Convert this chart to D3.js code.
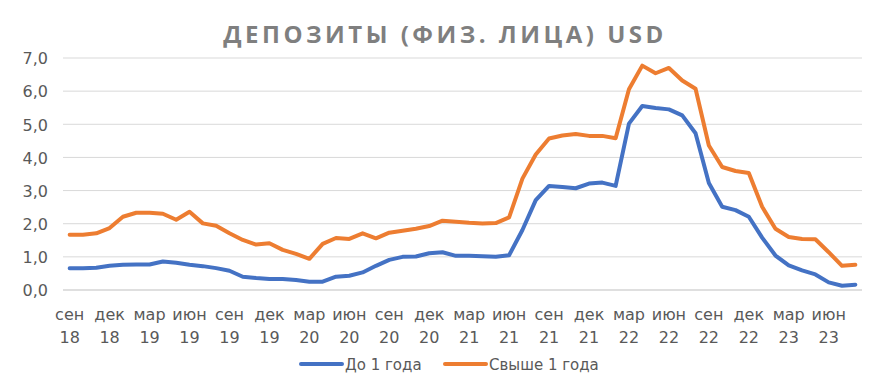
<!DOCTYPE html>
<html>
<head>
<meta charset="utf-8">
<script src="https://cdn.jsdelivr.net/npm/d3@7"></script>
<style>
  body { margin: 0; background: #fff; }
  svg { display: block; font-family: "DejaVu Sans", sans-serif; }
  .grid line { stroke: #d9d9d9; stroke-width: 1; }
  .axis text { fill: #595959; font-size: 16px; font-family: "DejaVu Sans", sans-serif; }
</style>
</head>
<body>
<svg width="885" height="388"></svg>
<script>
// категории (месяцы)
const categories = [
  "сен 18", "окт 18", "ноя 18", "дек 18",
  "янв 19", "фев 19", "мар 19", "апр 19", "май 19", "июн 19", "июл 19", "авг 19", "сен 19", "окт 19", "ноя 19", "дек 19",
  "янв 20", "фев 20", "мар 20", "апр 20", "май 20", "июн 20", "июл 20", "авг 20", "сен 20", "окт 20", "ноя 20", "дек 20",
  "янв 21", "фев 21", "мар 21", "апр 21", "май 21", "июн 21", "июл 21", "авг 21", "сен 21", "окт 21", "ноя 21", "дек 21",
  "янв 22", "фев 22", "мар 22", "апр 22", "май 22", "июн 22", "июл 22", "авг 22", "сен 22", "окт 22", "ноя 22", "дек 22",
  "янв 23", "фев 23", "мар 23", "апр 23", "май 23", "июн 23", "июл 23", "авг 23"
];

// подписи оси X
const tickLabels = [
  "сен 18", "дек 18", "мар 19", "июн 19", "сен 19", "дек 19", "мар 20", "июн 20", "сен 20", "дек 20",
  "мар 21", "июн 21", "сен 21", "дек 21", "мар 22", "июн 22", "сен 22", "дек 22", "мар 23", "июн 23"
];

// До 1 года
const shortTerm = [
  0.66, 0.66, 0.67, 0.73, 0.76, 0.77, 0.77, 0.86, 0.82, 0.76,
  0.72, 0.66, 0.58, 0.40, 0.36, 0.33, 0.33, 0.30, 0.25, 0.25,
  0.40, 0.43, 0.53, 0.73, 0.91, 1.00, 1.01, 1.11, 1.14, 1.03,
  1.03, 1.02, 1.00, 1.05, 1.81, 2.71, 3.14, 3.11, 3.07, 3.21,
  3.24, 3.14, 5.02, 5.55, 5.49, 5.45, 5.27, 4.73, 3.23, 2.51,
  2.41, 2.21, 1.58, 1.04, 0.74, 0.59, 0.47, 0.23, 0.13, 0.16
];

// Свыше 1 года
const longTerm = [
  1.67, 1.67, 1.71, 1.87, 2.21, 2.33, 2.33, 2.30, 2.12, 2.36,
  2.01, 1.94, 1.71, 1.51, 1.37, 1.41, 1.21, 1.09, 0.94, 1.39,
  1.57, 1.54, 1.71, 1.56, 1.73, 1.79, 1.85, 1.93, 2.09, 2.06,
  2.03, 2.01, 2.02, 2.19, 3.36, 4.09, 4.57, 4.66, 4.71, 4.65,
  4.65, 4.58, 6.06, 6.77, 6.54, 6.70, 6.32, 6.07, 4.36, 3.71,
  3.59, 3.53, 2.51, 1.85, 1.60, 1.54, 1.53, 1.14, 0.73, 0.76
];

const yTicks = [0, 1, 2, 3, 4, 5, 6, 7];

const series = [
  { name: "До 1 года", values: shortTerm, color: "#4472c4" },
  { name: "Свыше 1 года", values: longTerm, color: "#ed7d31" }
];

const svg = d3.select("svg");
const plotLeft = 63, plotRight = 862, plotTop = 58, plotBottom = 290;

const x = d3.scaleBand().domain(categories).range([plotLeft, plotRight]);
const y = d3.scaleLinear().domain([0, 7]).range([plotBottom, plotTop]);

// заголовок
svg.append("text")
  .attr("x", 445).attr("y", 43)
  .attr("text-anchor", "middle")
  .attr("fill", "#7f7f7f")
  .style("font-family", "'Open Sans', sans-serif")
  .style("font-weight", "bold")
  .style("font-size", "24px")
  .style("letter-spacing", "3.5px")
  .text("ДЕПОЗИТЫ (ФИЗ. ЛИЦА) USD");

// сетка
svg.append("g").attr("class", "grid")
  .selectAll("line")
  .data(yTicks)
  .enter()
  .append("line")
  .attr("x1", plotLeft).attr("x2", plotRight)
  .attr("y1", d => y(d)).attr("y2", d => y(d))
  .style("stroke", d => d === 0 ? "#bfbfbf" : "#d9d9d9");

// ось Y
const yAxis = svg.append("g").attr("class", "axis")
  .attr("transform", `translate(${plotLeft - 15},0)`)
  .call(d3.axisLeft(y).tickValues(yTicks).tickSize(0).tickFormat(d => d3.format(".1f")(d).replace(".", ",")));
yAxis.select(".domain").remove();
yAxis.selectAll("text").attr("dy", "0.36em").attr("x", 0);

// ось X
const xAxis = svg.append("g").attr("class", "axis")
  .attr("transform", `translate(0,${plotBottom})`)
  .call(d3.axisBottom(x).tickValues(tickLabels).tickSize(0));
xAxis.select(".domain").remove();
xAxis.selectAll("text").each(function(d) {
  const parts = d.split(" ");
  const t = d3.select(this).text(null).attr("y", 0).attr("dy", null);
  t.append("tspan").attr("x", 0).attr("y", 30).text(parts[0]);
  t.append("tspan").attr("x", 0).attr("y", 53).text(parts[1]);
});

// линии
const line = d3.line()
  .x((d, i) => x(categories[i]) + x.bandwidth() / 2)
  .y(d => y(d));

svg.selectAll(".series")
  .data(series)
  .enter()
  .append("path")
  .attr("class", "series")
  .attr("fill", "none")
  .attr("stroke", d => d.color)
  .attr("stroke-width", 4)
  .attr("stroke-linejoin", "round")
  .attr("stroke-linecap", "round")
  .attr("d", d => line(d.values));

// легенда
const legendX = [301, 445];
const legend = svg.selectAll(".legend")
  .data(series)
  .enter()
  .append("g")
  .attr("class", "legend")
  .attr("transform", (d, i) => `translate(${legendX[i]},364)`);
legend.append("line")
  .attr("x1", 0).attr("x2", 41).attr("y1", 0).attr("y2", 0)
  .attr("stroke", d => d.color)
  .attr("stroke-width", 4)
  .attr("stroke-linecap", "round");
legend.append("text")
  .attr("x", 44).attr("y", 5.5)
  .attr("fill", "#595959")
  .style("font-size", "15px")
  .text(d => d.name);
</script>
</body>
</html>
